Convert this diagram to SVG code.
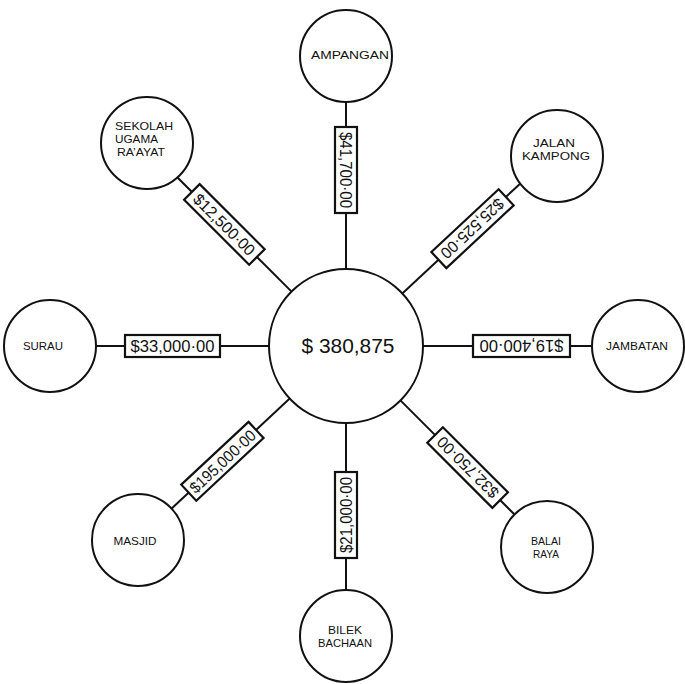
<svg xmlns="http://www.w3.org/2000/svg" width="685" height="684" viewBox="0 0 685 684">
<style>
.c{fill:#fff;stroke:#111;stroke-width:2}
.l{stroke:#111;stroke-width:2;fill:none}
.b{fill:#fff;stroke:#111;stroke-width:2.2}
.t{font-family:"Liberation Sans",Arial,sans-serif;font-size:11.5px;fill:#111}
.v{font-family:"Liberation Sans",Arial,sans-serif;font-size:16px;fill:#111;text-anchor:middle}
.m{font-family:"Liberation Sans",Arial,sans-serif;font-size:20px;fill:#111;text-anchor:middle}
</style>
<rect width="685" height="684" fill="#fff"/>
<g id="connectors">
<line class="l" x1="346" y1="102" x2="346" y2="269"/>
<line class="l" x1="402.3" y1="293.5" x2="520.1" y2="183.7"/>
<line class="l" x1="423" y1="346" x2="592" y2="346"/>
<line class="l" x1="400.4" y1="400.4" x2="514.3" y2="514.3"/>
<line class="l" x1="346" y1="423" x2="346" y2="590"/>
<line class="l" x1="289.7" y1="398.5" x2="171.9" y2="508.3"/>
<line class="l" x1="96" y1="346" x2="269" y2="346"/>
<line class="l" x1="291.6" y1="291.6" x2="177.7" y2="177.7"/>
<g transform="translate(346,170) rotate(90)"><rect class="b" x="-43" y="-11" width="86" height="22"/><text class="v" x="0" y="5.8" textLength="76" lengthAdjust="spacingAndGlyphs">$41,700·00</text></g>
<g transform="translate(472.5,228.7) rotate(137)"><rect class="b" x="-46" y="-11" width="92" height="22"/><text class="v" x="0" y="5.8" textLength="80" lengthAdjust="spacingAndGlyphs">$25,525·00</text></g>
<g transform="translate(521.5,346) rotate(180)"><rect class="b" x="-48.5" y="-11" width="97" height="22"/><text class="v" x="0" y="5.8" textLength="84" lengthAdjust="spacingAndGlyphs">$19,400·00</text></g>
<g transform="translate(467.6,467.6) rotate(225)"><rect class="b" x="-46" y="-11" width="92" height="22"/><text class="v" x="0" y="5.8" textLength="80" lengthAdjust="spacingAndGlyphs">$32,750·00</text></g>
<g transform="translate(346,515) rotate(-90)"><rect class="b" x="-43" y="-11" width="86" height="22"/><text class="v" x="0" y="5.8" textLength="76" lengthAdjust="spacingAndGlyphs">$21,000·00</text></g>
<g transform="translate(222.4,461.3) rotate(-43)"><rect class="b" x="-46" y="-11" width="92" height="22"/><text class="v" x="0" y="5.8" textLength="84" lengthAdjust="spacingAndGlyphs">$195,000·00</text></g>
<g transform="translate(172.5,346)"><rect class="b" x="-47.5" y="-11" width="95" height="22"/><text class="v" x="0" y="5.8" textLength="84" lengthAdjust="spacingAndGlyphs">$33,000·00</text></g>
<g transform="translate(224.4,224.4) rotate(45)"><rect class="b" x="-46" y="-11" width="92" height="22"/><text class="v" x="0" y="5.8" textLength="80" lengthAdjust="spacingAndGlyphs">$12,500·00</text></g>
</g>
<g id="center"><circle class="c" cx="346" cy="346" r="77"/><text class="m" x="348" y="353" textLength="93" lengthAdjust="spacingAndGlyphs">$ 380,875</text></g>
<g id="ampangan"><circle class="c" cx="346" cy="56" r="46"/><text class="t" x="350" y="59" text-anchor="middle" textLength="78" lengthAdjust="spacingAndGlyphs">AMPANGAN</text></g>
<g id="jalan-kampong"><circle class="c" cx="557" cy="156" r="46"/><text class="t" x="554" y="146.5" text-anchor="middle" textLength="42" lengthAdjust="spacingAndGlyphs">JALAN</text><text class="t" x="556" y="159.5" text-anchor="middle" textLength="68" lengthAdjust="spacingAndGlyphs">KAMPONG</text></g>
<g id="jambatan"><circle class="c" cx="638" cy="346" r="46"/><text class="t" x="637" y="350" text-anchor="middle" textLength="62" lengthAdjust="spacingAndGlyphs">JAMBATAN</text></g>
<g id="balai-raya"><circle class="c" cx="547" cy="547" r="46"/><text class="t" x="546" y="544.5" text-anchor="middle" textLength="30" lengthAdjust="spacingAndGlyphs">BALAI</text><text class="t" x="546" y="557.5" text-anchor="middle" textLength="26" lengthAdjust="spacingAndGlyphs">RAYA</text></g>
<g id="bilek-bachaan"><circle class="c" cx="346" cy="636" r="46"/><text class="t" x="345" y="633.5" text-anchor="middle" textLength="34" lengthAdjust="spacingAndGlyphs">BILEK</text><text class="t" x="345" y="646.5" text-anchor="middle" textLength="54" lengthAdjust="spacingAndGlyphs">BACHAAN</text></g>
<g id="masjid"><circle class="c" cx="138" cy="540" r="46"/><text class="t" x="135" y="545" text-anchor="middle" textLength="43" lengthAdjust="spacingAndGlyphs">MASJID</text></g>
<g id="surau"><circle class="c" cx="50" cy="346" r="46"/><text class="t" x="43" y="350" text-anchor="middle" textLength="40" lengthAdjust="spacingAndGlyphs">SURAU</text></g>
<g id="sekolah"><circle class="c" cx="147" cy="143" r="46"/><text class="t" x="115" y="130" textLength="58" lengthAdjust="spacingAndGlyphs">SEKOLAH</text><text class="t" x="115" y="143" textLength="43" lengthAdjust="spacingAndGlyphs">UGAMA</text><text class="t" x="117" y="156" textLength="48" lengthAdjust="spacingAndGlyphs">RA’AYAT</text></g>
</svg>
